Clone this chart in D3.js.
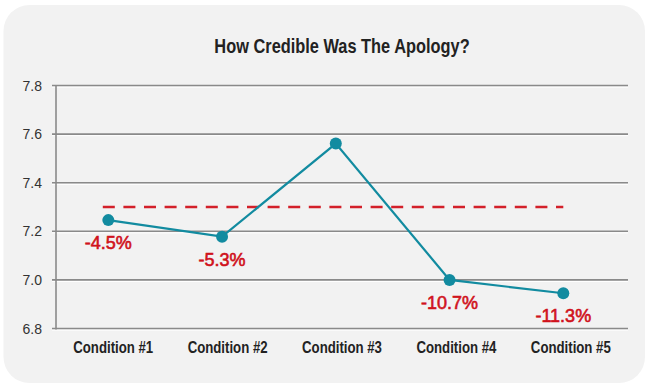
<!DOCTYPE html>
<html>
<head>
<meta charset="utf-8">
<script src="https://cdn.jsdelivr.net/npm/d3@7"></script>
<style>
  html, body { margin: 0; padding: 0; background: #ffffff; }
  svg { display: block; }
</style>
</head>
<body>
<svg id="chart" width="650" height="390"></svg>
<script>
// ---- data ----
const title = "How Credible Was The Apology?";
const categories = ["Condition #1", "Condition #2", "Condition #3", "Condition #4", "Condition #5"];
const values = [7.246, 7.178, 7.561, 7.0, 6.945];
const changeLabels = ["-4.5%", "-5.3%", "", "-10.7%", "-11.3%"];
const referenceValue = 7.3;
const yTicks = [6.8, 7.0, 7.2, 7.4, 7.6, 7.8];

// ---- layout ----
const plot = { left: 56, right: 628, top: 85.5, bottom: 328.5 };
const svg = d3.select("#chart");

const boldFont = '"Liberation Sans", Arial, Helvetica, sans-serif';
const plainFont = '"Liberation Sans", Arial, Helvetica, sans-serif';

// card background
svg.append("rect")
  .attr("x", 3.5).attr("y", 5)
  .attr("width", 641.5).attr("height", 378)
  .attr("rx", 26).attr("ry", 26)
  .attr("fill", "#f2f2f2");

// scales
const y = d3.scaleLinear().domain([6.8, 7.8]).range([plot.bottom, plot.top]);
const xBand = d3.scaleBand().domain(categories).range([plot.left, plot.right]);
const xPt = d3.scalePoint().domain(categories).range([108.3, 563.3]);

// title (condensed via horizontal scale)
svg.append("text")
  .attr("transform", `translate(${(plot.left + plot.right) / 2},53.3) scale(0.84,1)`)
  .attr("text-anchor", "middle")
  .attr("font-family", boldFont)
  .attr("font-weight", "bold")
  .attr("font-size", 19.5)
  .attr("fill", "#222")
  .text(title);

// gridlines (with light emboss beneath)
const grid = svg.append("g");
grid.selectAll("line.hi").data(yTicks).join("line")
  .attr("class", "hi")
  .attr("x1", plot.left - 4).attr("x2", plot.right)
  .attr("y1", d => y(d) + 1.6).attr("y2", d => y(d) + 1.6)
  .attr("stroke", "#ffffff").attr("stroke-width", 1);
grid.selectAll("line.g").data(yTicks).join("line")
  .attr("class", "g")
  .attr("x1", plot.left - 4).attr("x2", plot.right)
  .attr("y1", d => y(d)).attr("y2", d => y(d))
  .attr("stroke", "#8a8a8a").attr("stroke-width", 1.6);

// y axis line
svg.append("line")
  .attr("x1", plot.left).attr("x2", plot.left)
  .attr("y1", plot.top).attr("y2", plot.bottom + 1)
  .attr("stroke", "#8a8a8a").attr("stroke-width", 1.6);

// y tick labels
svg.append("g").selectAll("text").data(yTicks).join("text")
  .attr("x", 42)
  .attr("y", d => y(d))
  .attr("dy", "0.36em")
  .attr("text-anchor", "end")
  .attr("font-family", plainFont)
  .attr("font-size", 14)
  .attr("fill", "#333")
  .text(d => d3.format(".1f")(d));

// x category labels (condensed via horizontal scale)
svg.append("g").selectAll("text").data(categories).join("text")
  .attr("transform", d => `translate(${xBand(d) + xBand.bandwidth() / 2},353) scale(0.8,1)`)
  .attr("text-anchor", "middle")
  .attr("font-family", boldFont)
  .attr("font-weight", "bold")
  .attr("font-size", 16.5)
  .attr("fill", "#222")
  .text(d => d);

// reference dashed line
svg.append("line")
  .attr("x1", xPt(categories[0]) - 5.5)
  .attr("x2", xPt(categories[categories.length - 1]))
  .attr("y1", y(referenceValue)).attr("y2", y(referenceValue))
  .attr("stroke", "#d3202a")
  .attr("stroke-width", 2.6)
  .attr("stroke-dasharray", "12,8.6");

// data line
const pts = categories.map((c, i) => ({ c, v: values[i], lab: changeLabels[i] }));
svg.append("path")
  .datum(pts)
  .attr("fill", "none")
  .attr("stroke", "#128ba0")
  .attr("stroke-width", 2.2)
  .attr("d", d3.line().x(d => xPt(d.c)).y(d => y(d.v)));

svg.append("g").selectAll("circle").data(pts).join("circle")
  .attr("cx", d => xPt(d.c))
  .attr("cy", d => y(d.v))
  .attr("r", 6)
  .attr("fill", "#128ba0");

// change labels
svg.append("g").selectAll("text").data(pts.filter(d => d.lab)).join("text")
  .attr("x", d => xPt(d.c))
  .attr("y", d => y(d.v) + 29)
  .attr("text-anchor", "middle")
  .attr("font-family", plainFont)
  .attr("font-size", 18)
  .attr("fill", "#d0121c")
  .attr("stroke", "#d0121c")
  .attr("stroke-width", 0.6)
  .text(d => d.lab);
</script>
</body>
</html>
